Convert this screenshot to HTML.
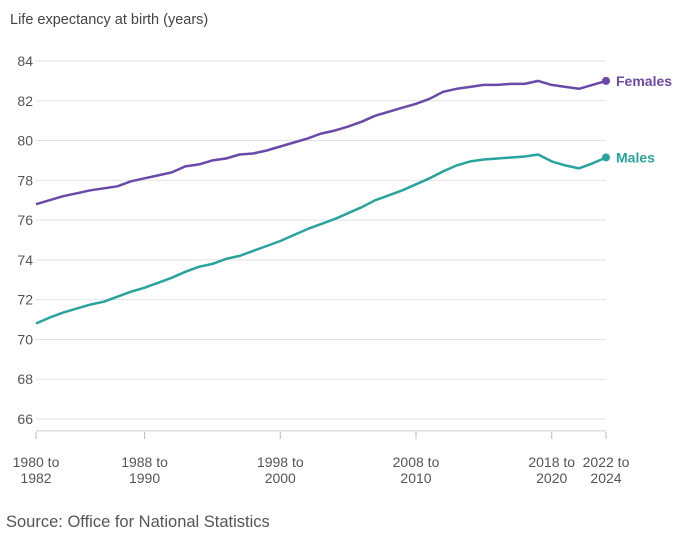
<!DOCTYPE html>
<html><head><meta charset="utf-8"><style>
body{margin:0;background:#fff;font-family:"Liberation Sans",sans-serif}
svg text{font-family:"Liberation Sans",sans-serif}
</style></head><body>
<svg width="683" height="533">
<text x="10" y="24" font-size="14.5" fill="#444">Life expectancy at birth (years)</text>
<g id="grid"></g><g id="lines"></g>
<text x="6" y="527" font-size="16.5" fill="#555">Source: Office for National Statistics</text>
</svg>
<script>
const years=[];for(let y=1980;y<=2022;y++)years.push(y);
const females=[76.8,77.0,77.2,77.35,77.5,77.6,77.7,77.95,78.1,78.25,78.4,78.7,78.8,79.0,79.1,79.3,79.35,79.5,79.7,79.9,80.1,80.35,80.5,80.7,80.95,81.25,81.45,81.65,81.85,82.1,82.45,82.6,82.7,82.8,82.8,82.85,82.85,83.0,82.8,82.7,82.6,82.8,83.0];
const males=[70.8,71.1,71.35,71.55,71.75,71.9,72.15,72.4,72.6,72.85,73.1,73.4,73.65,73.8,74.05,74.2,74.45,74.7,74.95,75.25,75.55,75.8,76.05,76.35,76.65,77.0,77.25,77.5,77.8,78.1,78.45,78.75,78.95,79.05,79.1,79.15,79.2,79.3,78.95,78.75,78.6,78.85,79.15];
const yTicks=[66,68,70,72,74,76,78,80,82,84];
const xTickYears=[1980,1988,1998,2008,2018,2022];
const NS='http://www.w3.org/2000/svg';
const x=v=>36+(v-1980)*570/42, y=v=>61+(84-v)*358/18;
function mk(t,a,p){const e=document.createElementNS(NS,t);for(const k in a)e.setAttribute(k,a[k]);p.appendChild(e);return e;}
const g=document.getElementById('grid'),L=document.getElementById('lines');
yTicks.forEach(v=>{
 const l=mk('line',{x1:36,x2:606,y1:y(v),y2:y(v),stroke:'#e2e2e2','stroke-width':1},g);
 
 
 const t=mk('text',{x:33,y:y(v)+5,'text-anchor':'end','font-size':14,fill:'#555'},g);t.textContent=v;
 
 
});
mk('line',{x1:36,x2:606,y1:y(65.4),y2:y(65.4),stroke:'#ccc'},g);
xTickYears.forEach(v=>{
 const tk=mk('line',{x1:x(v),x2:x(v),y1:432,y2:439,stroke:'#bbb'},g);
 
 
 const t=mk('text',{x:x(v),y:467,'text-anchor':'middle','font-size':14,fill:'#555'},g);
 
 
 mk('tspan',{x:x(v),dy:0},t).textContent=v+' to';
 mk('tspan',{x:x(v),dy:16},t).textContent=String(v+2);
});
[[females,'#6a49a8','Females','females'],[males,'#28a39e','Males','males']].forEach(([d,c,n,id])=>{
 const p=mk('path',{d:d.map((v,i)=>(i?'L':'M')+x(years[i]).toFixed(1)+','+y(v).toFixed(1)).join(''),fill:'none',stroke:c,'stroke-width':2.5,'stroke-linejoin':'round'},L);
 
 
 const last=d.length-1;
 const ci=mk('circle',{cx:x(years[last]),cy:y(d[last]),r:4,fill:c},L);
 
 
 const t=mk('text',{x:x(years[last])+10,y:y(d[last])+5,'font-size':14,'font-weight':'bold',fill:c},L);t.textContent=n;
 
 
});
</script>
</body></html>
